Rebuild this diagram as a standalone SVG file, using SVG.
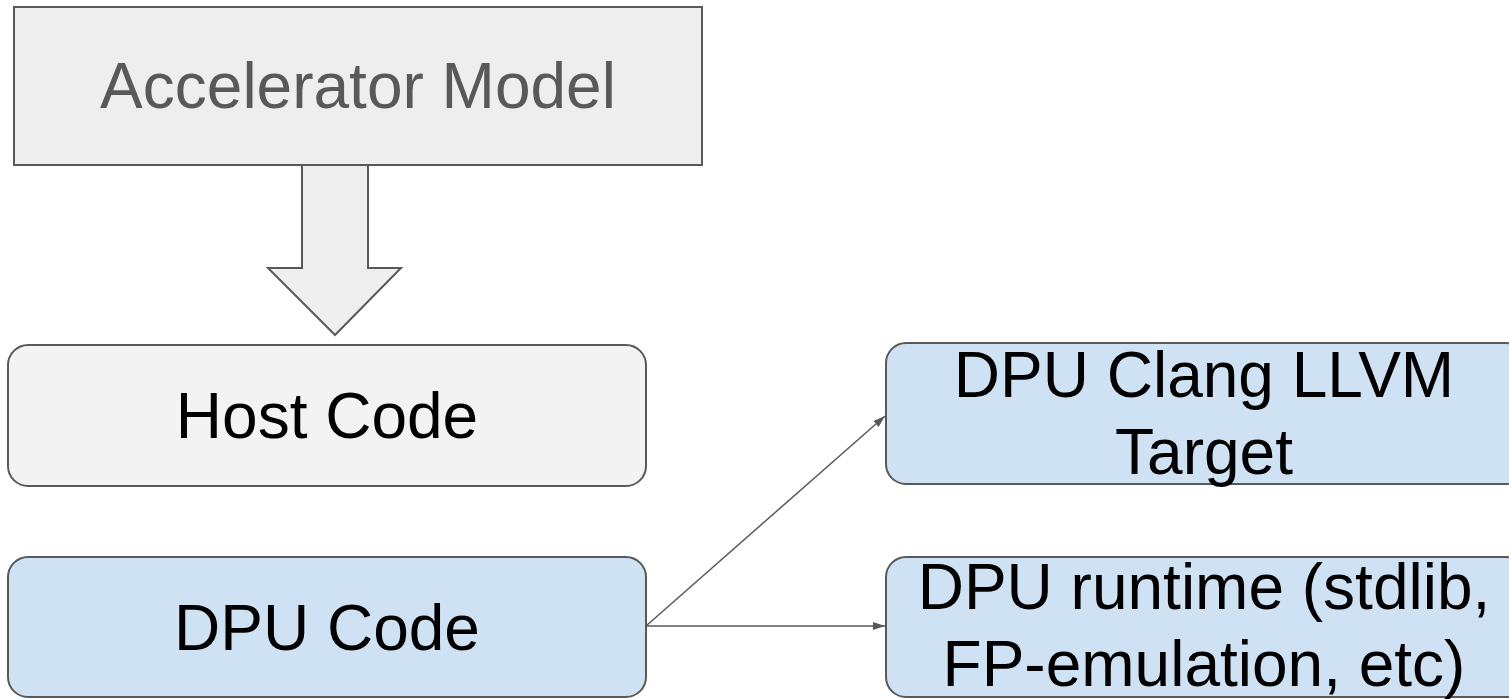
<svg xmlns="http://www.w3.org/2000/svg" width="1509" height="699" viewBox="0 0 1509 699">
<defs>
<style>
.box{stroke:#595959;stroke-width:2}
.gray{fill:#f3f3f3}
.blue{fill:#cfe2f3}
.t{font-family:"Liberation Sans",Arial,sans-serif;text-anchor:middle;fill:#000;font-size:64px}
.conn{stroke:#595959;stroke-width:1.5;fill:none}
</style>
<marker id="ah" viewBox="0 0 12 10" refX="12" refY="5" markerWidth="12" markerHeight="10" markerUnits="userSpaceOnUse" orient="auto">
<path d="M0,1 L12,5 L0,9 Z" fill="#595959"/>
</marker>
</defs>
<rect width="1509" height="699" fill="#fff"/>
<g id="accelerator-model">
<rect class="box" x="14" y="7" width="688" height="158" fill="#eeeeee"/>
<text class="t" x="358" y="108" style="fill:#595959">Accelerator Model</text>
</g>
<g id="block-arrow">
<path class="box" d="M302,165 L368,165 L368,268 L401,268 L335,335 L268,268 L302,268 Z" fill="#eeeeee" stroke-linejoin="miter"/>
</g>
<g id="host-code">
<rect class="box gray" x="8" y="345" width="638" height="141" rx="20"/>
<text class="t" x="327" y="438">Host Code</text>
</g>
<g id="dpu-code">
<rect class="box blue" x="8" y="557" width="638" height="140" rx="20"/>
<text class="t" x="327" y="650">DPU Code</text>
</g>
<g id="dpu-clang">
<rect class="box blue" x="886" y="343" width="640" height="141" rx="20"/>
<text class="t" x="1204" y="397">DPU Clang LLVM</text>
<text class="t" x="1204" y="474">Target</text>
</g>
<g id="dpu-runtime">
<rect class="box blue" x="886" y="557" width="640" height="140" rx="20"/>
<text class="t" x="1204" y="609">DPU runtime (stdlib,</text>
<text class="t" x="1204" y="686">FP-emulation, etc)</text>
</g>
<g id="connectors">
<path class="conn" d="M646,626 L885,416" marker-end="url(#ah)"/>
<path class="conn" d="M646,626 L885,626" marker-end="url(#ah)"/>
</g>
</svg>
